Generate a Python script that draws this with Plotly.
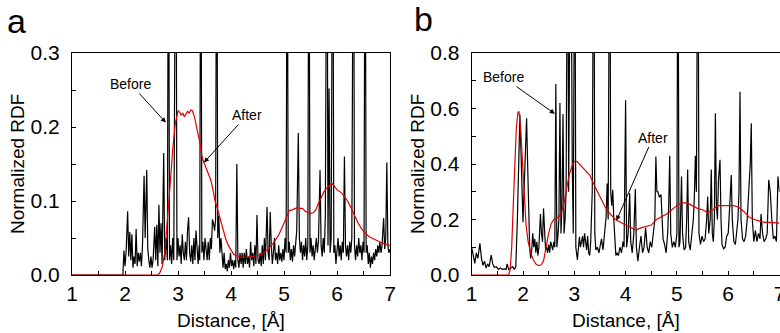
import plotly.graph_objects as go

# ---------------- data ----------------
before_a = [
    (1.0, 0), (1.96, 0), (1.98, 0.033), (2.0, 0.012), (2.02, 0.03), (2.05, 0.086), (2.07, 0.025),
    (2.09, 0.058), (2.11, 0.02), (2.13, 0.055), (2.15, 0.01), (2.17, 0.025), (2.19, 0.015),
    (2.21, 0.062), (2.23, 0.012), (2.25, 0.03), (2.27, 0.018), (2.29, 0.03), (2.31, 0.012),
    (2.33, 0.04), (2.36, 0.134), (2.38, 0.05), (2.41, 0.142), (2.43, 0.035), (2.45, 0.02),
    (2.47, 0.01), (2.49, 0.025), (2.51, 0.01), (2.53, 0.02), (2.56, 0.065), (2.58, 0.02),
    (2.60, 0.068), (2.62, 0.012), (2.64, 0.095), (2.66, 0.03), (2.68, 0.07), (2.70, 0.015),
    (2.73, 0.165), (2.75, 0.02), (2.78, 0.05), (2.80, 0.02), (2.82, 0.6), (2.84, 0.02),
    (2.86, 0.04), (2.88, 0.015), (2.90, 0.05), (2.92, 0.02), (2.96, 0.6), (2.98, 0.02),
    (3.0, 0.05), (3.02, 0.025), (3.04, 0.04), (3.06, 0.015), (3.08, 0.055), (3.10, 0.03),
    (3.12, 0.02), (3.14, 0.045), (3.16, 0.02), (3.18, 0.06), (3.20, 0.078), (3.22, 0.03),
    (3.24, 0.018), (3.26, 0.04), (3.28, 0.015), (3.30, 0.05), (3.32, 0.02), (3.34, 0.06),
    (3.36, 0.03), (3.38, 0.015), (3.40, 0.04), (3.41, 0.02), (3.43, 0.6), (3.45, 0.03),
    (3.47, 0.045), (3.49, 0.02), (3.51, 0.05), (3.53, 0.03), (3.55, 0.02), (3.57, 0.045),
    (3.59, 0.02), (3.61, 0.05), (3.63, 0.035), (3.65, 0.075), (3.67, 0.07), (3.69, 0.06),
    (3.71, 0.075), (3.73, 0.6), (3.75, 0.05), (3.77, 0.08), (3.79, 0.03), (3.81, 0.05),
    (3.83, 0.02), (3.85, 0.01), (3.87, 0.03), (3.89, 0.008), (3.91, 0.015), (3.93, 0.005),
    (3.95, 0.02), (3.97, 0.01), (3.99, 0.03), (4.01, 0.012), (4.03, 0.02), (4.05, 0.008),
    (4.07, 0.02), (4.09, 0.01), (4.11, 0.15), (4.13, 0.02), (4.15, 0.01), (4.17, 0.03),
    (4.19, 0.015), (4.21, 0.03), (4.23, 0.01), (4.25, 0.03), (4.27, 0.015), (4.29, 0.035),
    (4.31, 0.015), (4.33, 0.025), (4.35, 0.01), (4.37, 0.045), (4.39, 0.02), (4.41, 0.03),
    (4.43, 0.012), (4.45, 0.04), (4.47, 0.015), (4.49, 0.081), (4.51, 0.02), (4.53, 0.015),
    (4.55, 0.03), (4.57, 0.012), (4.59, 0.04), (4.61, 0.015), (4.63, 0.05), (4.65, 0.02),
    (4.68, 0.092), (4.70, 0.03), (4.72, 0.02), (4.74, 0.085), (4.76, 0.04), (4.78, 0.015),
    (4.80, 0.03), (4.82, 0.05), (4.84, 0.02), (4.86, 0.03), (4.88, 0.015), (4.90, 0.04),
    (4.92, 0.02), (4.94, 0.03), (4.96, 0.018), (4.98, 0.035), (5.00, 0.02), (5.02, 0.05),
    (5.04, 0.03), (5.06, 0.6), (5.08, 0.03), (5.10, 0.045), (5.12, 0.02), (5.14, 0.035),
    (5.16, 0.018), (5.18, 0.04), (5.20, 0.025), (5.22, 0.05), (5.24, 0.06), (5.27, 0.192),
    (5.29, 0.05), (5.31, 0.03), (5.33, 0.045), (5.35, 0.02), (5.37, 0.04), (5.39, 0.025),
    (5.41, 0.05), (5.43, 0.02), (5.45, 0.04), (5.47, 0.6), (5.49, 0.03), (5.51, 0.05),
    (5.53, 0.025), (5.55, 0.04), (5.57, 0.02), (5.59, 0.035), (5.61, 0.05), (5.63, 0.03),
    (5.65, 0.045), (5.68, 0.142), (5.70, 0.04), (5.72, 0.025), (5.74, 0.05), (5.76, 0.03),
    (5.78, 0.08), (5.81, 0.6), (5.83, 0.04), (5.85, 0.252), (5.87, 0.03), (5.89, 0.05),
    (5.92, 0.6), (5.94, 0.03), (5.96, 0.04), (5.98, 0.015), (6.00, 0.03), (6.02, 0.05),
    (6.04, 0.025), (6.06, 0.04), (6.08, 0.02), (6.10, 0.045), (6.12, 0.03), (6.14, 0.16),
    (6.16, 0.04), (6.18, 0.025), (6.20, 0.04), (6.22, 0.02), (6.24, 0.045), (6.26, 0.03),
    (6.28, 0.05), (6.31, 0.6), (6.33, 0.04), (6.35, 0.02), (6.37, 0.04), (6.39, 0.025),
    (6.41, 0.05), (6.43, 0.03), (6.45, 0.04), (6.47, 0.02), (6.49, 0.045), (6.51, 0.03),
    (6.53, 0.6), (6.55, 0.03), (6.57, 0.04), (6.59, 0.015), (6.61, 0.03), (6.63, 0.01),
    (6.65, 0.025), (6.67, 0.015), (6.69, 0.03), (6.71, 0.02), (6.73, 0.035), (6.75, 0.025),
    (6.77, 0.04), (6.79, 0.03), (6.81, 0.045), (6.83, 0.03), (6.85, 0.04), (6.88, 0.077),
    (6.90, 0.035), (6.92, 0.05), (6.94, 0.152), (6.96, 0.04), (6.98, 0.03), (7.0, 0.035),
]

after_a = [
    (1.0, 0), (2.6, 0), (2.65, 0.002), (2.7, 0.01), (2.75, 0.03), (2.8, 0.07), (2.85, 0.12),
    (2.9, 0.17), (2.95, 0.205), (3.0, 0.222), (3.03, 0.22), (3.06, 0.216), (3.09, 0.219),
    (3.12, 0.214), (3.15, 0.218), (3.18, 0.221), (3.21, 0.219), (3.24, 0.223), (3.27, 0.222),
    (3.31, 0.214), (3.35, 0.2), (3.38, 0.19), (3.41, 0.18), (3.44, 0.165), (3.47, 0.155),
    (3.5, 0.15), (3.54, 0.142), (3.58, 0.135), (3.62, 0.128), (3.66, 0.115), (3.7, 0.1),
    (3.75, 0.088), (3.8, 0.075), (3.85, 0.06), (3.9, 0.049), (3.95, 0.04), (4.0, 0.033),
    (4.05, 0.028), (4.1, 0.026), (4.2, 0.024), (4.3, 0.024), (4.4, 0.025), (4.5, 0.026),
    (4.6, 0.029), (4.7, 0.035), (4.8, 0.043), (4.9, 0.054), (5.0, 0.07), (5.05, 0.08),
    (5.1, 0.087), (5.15, 0.088), (5.2, 0.089), (5.25, 0.091), (5.3, 0.09), (5.35, 0.09),
    (5.4, 0.086), (5.45, 0.084), (5.5, 0.083), (5.55, 0.084), (5.6, 0.088), (5.65, 0.097),
    (5.7, 0.105), (5.75, 0.112), (5.8, 0.117), (5.85, 0.12), (5.9, 0.124), (5.95, 0.12),
    (6.0, 0.115), (6.05, 0.113), (6.1, 0.11), (6.15, 0.105), (6.2, 0.1), (6.25, 0.093),
    (6.3, 0.085), (6.35, 0.077), (6.4, 0.07), (6.45, 0.064), (6.5, 0.059), (6.6, 0.052),
    (6.7, 0.048), (6.8, 0.045), (6.9, 0.042), (7.0, 0.04),
]

before_b = [
    (1.0, 0.10), (1.03, 0.07), (1.06, 0.042), (1.09, 0.08), (1.12, 0.06), (1.16, 0.114),
    (1.19, 0.06), (1.22, 0.035), (1.25, 0.05), (1.28, 0.025), (1.31, 0.04), (1.34, 0.03),
    (1.38, 0.072), (1.41, 0.04), (1.44, 0.028), (1.48, 0.03), (1.52, 0.02), (1.56, 0.025),
    (1.60, 0.02), (1.64, 0.022), (1.67, 0.02), (1.69, 0.04), (1.72, 0.02), (1.76, 0.025),
    (1.80, 0.03), (1.83, 0.02), (1.86, 0.03), (1.89, 0.2), (1.92, 0.5), (1.94, 0.578),
    (1.96, 0.45), (1.98, 0.3), (2.0, 0.19), (2.02, 0.3), (2.05, 0.5), (2.07, 0.565),
    (2.09, 0.4), (2.11, 0.2), (2.13, 0.1), (2.15, 0.06), (2.17, 0.09), (2.19, 0.15),
    (2.21, 0.1), (2.23, 0.13), (2.25, 0.08), (2.27, 0.12), (2.29, 0.07), (2.31, 0.1),
    (2.34, 0.22), (2.36, 0.15), (2.38, 0.12), (2.40, 0.24), (2.42, 0.14), (2.44, 0.09),
    (2.46, 0.1), (2.48, 0.08), (2.50, 0.11), (2.52, 0.08), (2.54, 0.12), (2.56, 0.1),
    (2.58, 0.09), (2.60, 0.12), (2.62, 0.1), (2.64, 0.688), (2.66, 0.1), (2.68, 0.14),
    (2.70, 0.2), (2.72, 0.62), (2.74, 0.15), (2.76, 0.25), (2.78, 0.58), (2.80, 0.15),
    (2.82, 0.2), (2.84, 0.3), (2.87, 1.5), (2.89, 0.3), (2.93, 1.5), (2.96, 0.4),
    (2.98, 0.15), (3.01, 1.5), (3.03, 0.1), (3.06, 0.054), (3.08, 0.1), (3.10, 0.138),
    (3.12, 0.1), (3.14, 0.13), (3.16, 0.14), (3.18, 0.1), (3.20, 0.15), (3.22, 0.12),
    (3.24, 0.09), (3.26, 0.14), (3.28, 0.08), (3.30, 0.07), (3.32, 0.12), (3.35, 0.3),
    (3.38, 1.5), (3.40, 0.15), (3.42, 0.09), (3.45, 0.1), (3.48, 0.08), (3.50, 0.1),
    (3.53, 0.13), (3.56, 0.09), (3.59, 0.15), (3.62, 0.21), (3.64, 0.33), (3.66, 0.2),
    (3.69, 1.5), (3.71, 0.3), (3.73, 0.25), (3.75, 0.307), (3.77, 0.2), (3.79, 0.1),
    (3.81, 0.07), (3.83, 0.08), (3.86, 0.07), (3.89, 0.1), (3.92, 0.08), (3.95, 0.12),
    (3.97, 0.1), (4.0, 0.63), (4.02, 0.1), (4.05, 0.15), (4.08, 0.295), (4.10, 0.12),
    (4.13, 0.08), (4.16, 0.15), (4.19, 0.31), (4.21, 0.1), (4.24, 0.05), (4.27, 0.1),
    (4.30, 0.14), (4.33, 0.08), (4.36, 0.1), (4.39, 0.17), (4.42, 0.1), (4.45, 0.08),
    (4.48, 0.12), (4.51, 0.1), (4.54, 0.15), (4.57, 0.2), (4.59, 0.427), (4.61, 0.3),
    (4.63, 0.3), (4.66, 0.28), (4.69, 0.29), (4.71, 0.2), (4.73, 0.13), (4.76, 0.11),
    (4.79, 0.08), (4.82, 0.15), (4.84, 0.25), (4.86, 0.43), (4.88, 0.15), (4.91, 0.1),
    (4.94, 0.12), (4.97, 0.1), (5.0, 0.15), (5.02, 1.5), (5.04, 0.1), (5.06, 0.12),
    (5.09, 0.355), (5.11, 0.15), (5.14, 0.09), (5.17, 0.1), (5.19, 0.2), (5.21, 0.38),
    (5.23, 0.12), (5.26, 0.09), (5.29, 0.15), (5.32, 0.2), (5.34, 0.28), (5.36, 0.43),
    (5.38, 0.3), (5.41, 1.5), (5.43, 0.15), (5.46, 0.11), (5.49, 0.14), (5.52, 0.12),
    (5.55, 0.13), (5.58, 0.2), (5.60, 0.283), (5.62, 0.15), (5.65, 0.2), (5.67, 0.38),
    (5.69, 0.15), (5.71, 0.12), (5.73, 0.2), (5.75, 0.583), (5.77, 0.25), (5.79, 0.2),
    (5.81, 0.34), (5.84, 0.415), (5.86, 0.2), (5.88, 0.11), (5.91, 0.095), (5.94, 0.1),
    (5.97, 0.14), (6.0, 0.15), (6.03, 0.25), (6.06, 0.36), (6.08, 0.2), (6.11, 0.12),
    (6.14, 0.11), (6.17, 0.17), (6.19, 0.2), (6.21, 0.3), (6.23, 0.66), (6.25, 0.2),
    (6.28, 0.13), (6.31, 0.12), (6.34, 0.14), (6.37, 0.2), (6.40, 0.3), (6.43, 0.4),
    (6.45, 0.547), (6.47, 0.2), (6.50, 0.12), (6.53, 0.16), (6.56, 0.12), (6.59, 0.15),
    (6.62, 0.13), (6.64, 0.22), (6.67, 0.15), (6.70, 0.12), (6.73, 0.13), (6.76, 0.15),
    (6.79, 0.343), (6.82, 0.3), (6.85, 0.2), (6.88, 0.13), (6.91, 0.14), (6.94, 0.12),
    (6.97, 0.355), (7.0, 0.3),
]

after_b = [
    (1.0, 0), (1.72, 0), (1.75, 0.02), (1.78, 0.1), (1.81, 0.25), (1.84, 0.42), (1.87, 0.53),
    (1.9, 0.585), (1.92, 0.59), (1.95, 0.54), (1.98, 0.43), (2.0, 0.35), (2.03, 0.25),
    (2.06, 0.18), (2.1, 0.12), (2.15, 0.08), (2.2, 0.055), (2.25, 0.04), (2.3, 0.034),
    (2.35, 0.036), (2.4, 0.05), (2.45, 0.1), (2.5, 0.15), (2.55, 0.185), (2.6, 0.2),
    (2.65, 0.205), (2.7, 0.21), (2.75, 0.225), (2.8, 0.26), (2.85, 0.31), (2.9, 0.36),
    (2.95, 0.39), (3.0, 0.41), (3.05, 0.41), (3.1, 0.4), (3.15, 0.39), (3.2, 0.38),
    (3.3, 0.36), (3.4, 0.32), (3.5, 0.28), (3.6, 0.245), (3.7, 0.22), (3.8, 0.2),
    (3.9, 0.19), (4.0, 0.18), (4.1, 0.17), (4.2, 0.162), (4.3, 0.17), (4.4, 0.175),
    (4.5, 0.18), (4.6, 0.2), (4.7, 0.21), (4.8, 0.22), (4.9, 0.235), (5.0, 0.25),
    (5.1, 0.26), (5.2, 0.26), (5.3, 0.25), (5.4, 0.24), (5.5, 0.235), (5.6, 0.225),
    (5.7, 0.235), (5.8, 0.25), (5.9, 0.25), (6.0, 0.25), (6.1, 0.25), (6.2, 0.245),
    (6.3, 0.23), (6.4, 0.21), (6.5, 0.2), (6.6, 0.195), (6.7, 0.19), (6.8, 0.19),
    (6.9, 0.188), (7.0, 0.187),
]

x_ticks = [1, 2, 3, 4, 5, 6, 7]
y_ticks_a = [0.0, 0.1, 0.2, 0.3]
y_ticks_b = [0.0, 0.2, 0.4, 0.6, 0.8]

panel_labels = ["a", "b"]
x_title = "Distance, [Å]"
y_title = "Normalized RDF"

# ---------------- figure ----------------
W, H = 780, 333
FONT = "Arial, Liberation Sans, Helvetica, sans-serif"
BLACK = "#000000"
RED = "#e00000"
TICK_SIZE = 21


def xy(pairs):
    return [p[0] for p in pairs], [p[1] for p in pairs]


fig = go.Figure()
for pairs, color, xa, ya in [
    (before_a, BLACK, "x", "y"), (after_a, RED, "x", "y"),
    (before_b, BLACK, "x2", "y2"), (after_b, RED, "x2", "y2"),
]:
    xs, ys = xy(pairs)
    fig.add_trace(go.Scatter(x=xs, y=ys, mode="lines", xaxis=xa, yaxis=ya,
                             line=dict(color=color, width=1.2), showlegend=False,
                             hoverinfo="skip"))

ax_a = (72, 390)
ax_b = (471.7, 779.5)
top, bot = 53, 275
ydom = [1 - bot / H, 1 - top / H]

common_x = dict(range=[1, 7], tickmode="array", tickvals=x_ticks, ticks="inside", ticklen=4,
                tickcolor=BLACK, showline=True, linecolor=BLACK, linewidth=1, mirror=True,
                showgrid=False, zeroline=False, automargin=False, ticklabeloverflow="allow",
                tickfont=dict(family=FONT, size=TICK_SIZE, color=BLACK),
                minor=dict(tick0=1, dtick=0.5, ticks="inside", ticklen=4, tickcolor=BLACK,
                           showgrid=False))
common_y = dict(ticks="inside", ticklen=4, tickcolor=BLACK, showline=True, linecolor=BLACK,
                linewidth=1, mirror=True, showgrid=False, zeroline=False, tickmode="array",
                tickformat=".1f", ticklabelstandoff=7, automargin=False,
                tickfont=dict(family=FONT, size=TICK_SIZE, color=BLACK))

fig.update_layout(
    width=W, height=H, margin=dict(l=0, r=0, t=0, b=0, pad=0, autoexpand=False),
    paper_bgcolor="white", plot_bgcolor="white",
    xaxis=dict(domain=[ax_a[0] / W, ax_a[1] / W], anchor="y", **common_x),
    yaxis=dict(domain=ydom, anchor="x", range=[0, 0.3], tickvals=y_ticks_a,
               minor=dict(tick0=0, dtick=0.05, ticks="inside", ticklen=4, tickcolor=BLACK,
                          showgrid=False), **common_y),
    xaxis2=dict(domain=[ax_b[0] / W, ax_b[1] / W], anchor="y2", **common_x),
    yaxis2=dict(domain=ydom, anchor="x2", range=[0, 0.8], tickvals=y_ticks_b,
                minor=dict(tick0=0, dtick=0.1, ticks="inside", ticklen=4, tickcolor=BLACK,
                           showgrid=False), **common_y),
)

ann = []
ann.append(dict(x=16 / W, y=1 - 21 / H, xref="paper", yref="paper", text=panel_labels[0],
                showarrow=False, font=dict(family=FONT, size=34, color=BLACK),
                xanchor="center", yanchor="middle"))
ann.append(dict(x=424 / W, y=1 - 19 / H, xref="paper", yref="paper", text=panel_labels[1],
                showarrow=False, font=dict(family=FONT, size=34, color=BLACK),
                xanchor="center", yanchor="middle"))
for xl, xc in [(17, (ax_a[0] + ax_a[1]) / 2), (417, (ax_b[0] + ax_b[1]) / 2)]:
    ann.append(dict(x=xl / W, y=1 - 164 / H, xref="paper", yref="paper", text=y_title,
                    showarrow=False, textangle=-90, font=dict(family=FONT, size=19, color=BLACK),
                    xanchor="center", yanchor="middle"))
    ann.append(dict(x=xc / W, y=1 - 320 / H, xref="paper", yref="paper", text=x_title,
                    showarrow=False, font=dict(family=FONT, size=19, color=BLACK),
                    xanchor="center", yanchor="middle"))

arrows = [
    ("Before", 2.11, 0.258, 2.77, 0.206, "x", "y"),
    ("After", 4.30, 0.216, 3.49, 0.152, "x", "y"),
    ("Before", 1.615, 0.713, 2.62, 0.581, "x2", "y2"),
    ("After", 4.533, 0.4955, 3.82, 0.196, "x2", "y2"),
]
for t, tx, ty, px, py, xr, yr in arrows:
    ann.append(dict(x=px, y=py, xref=xr, yref=yr, ax=tx, ay=ty, axref=xr, ayref=yr,
                    text=t, showarrow=True, arrowhead=2, arrowsize=1, arrowwidth=1,
                    arrowcolor=BLACK, font=dict(family=FONT, size=14, color=BLACK),
                    standoff=0, startstandoff=0))
fig.update_layout(annotations=ann)

fig.write_html("out.html")
